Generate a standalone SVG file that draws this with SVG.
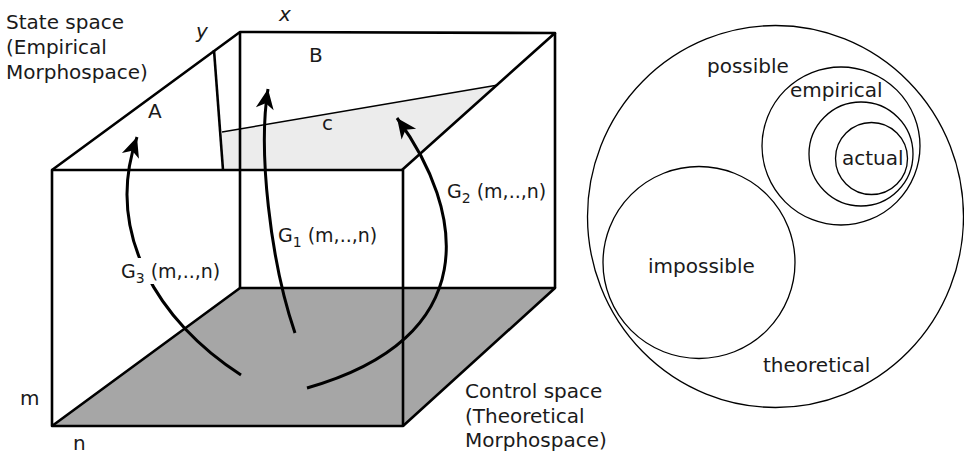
<svg xmlns="http://www.w3.org/2000/svg" width="964" height="454" viewBox="0 0 964 454">
<style>
text { font-family: "DejaVu Sans", "Liberation Sans", sans-serif; font-size: 20px; fill: #1a1a1a; }
.edge { fill: none; stroke: #000; stroke-width: 2.6; stroke-linejoin: round; }
.thin { fill: none; stroke: #000; stroke-width: 1.4; }
.arc { fill: none; stroke: #000; stroke-width: 3; }
.ring { fill: none; stroke: #000; stroke-width: 1.3; }
.sub { font-size: 14px; }
.g { font-size: 19px; }
</style>
<defs>
<marker id="head" markerUnits="userSpaceOnUse" markerWidth="26" markerHeight="22" refX="21" refY="10" orient="auto" viewBox="0 0 26 20">
<path d="M21,10 L1,1 L6.5,10 L1,19 Z" fill="#000"/>
</marker>
</defs>
<rect width="964" height="454" fill="#fff"/>
<g id="box">
<polygon points="52,426 240,288 555,288 403,426" fill="#a6a6a6"/>
<polygon points="222,132 498,85 402,170 223,170" fill="#ececec"/>
<line class="thin" x1="222" y1="132" x2="498" y2="85"/>
<line class="edge" x1="214" y1="50" x2="223" y2="170"/>
<rect class="edge" x="52" y="170" width="351" height="256"/>
<polyline class="edge" points="52,170 240,32 555,33 402,170"/>
<line class="edge" x1="240" y1="32" x2="240" y2="288"/>
<line class="edge" x1="555" y1="33" x2="555" y2="288"/>
<polyline class="edge" points="52,426 240,288 555,288 403,426"/>
</g>
<g id="connectors">
<path class="arc" d="M241,375 C158,322 104,232 137,137" marker-end="url(#head)"/>
<path class="arc" d="M295,333 C270,260 258,150 268,89" marker-end="url(#head)"/>
<path class="arc" d="M307,388 C484,338 466,212 397,118" marker-end="url(#head)"/>
</g>
<rect x="118" y="258" width="106" height="26" fill="#fff"/>
<g id="labels-cube">
<text x="6" y="29">State space</text>
<text x="6" y="54">(Empirical</text>
<text x="6" y="79">Morphospace)</text>
<text x="196" y="38" font-style="italic">y</text>
<text x="279" y="21" font-style="italic">x</text>
<text x="148" y="118">A</text>
<text x="309" y="62">B</text>
<text x="322" y="130" font-size="17">c</text>
<text class="g" x="121" y="278">G<tspan class="sub" dy="5">3</tspan><tspan dy="-5"> (m,..,n)</tspan></text>
<text class="g" x="278" y="242">G<tspan class="sub" dy="5">1</tspan><tspan dy="-5"> (m,..,n)</tspan></text>
<text class="g" x="447" y="198">G<tspan class="sub" dy="5">2</tspan><tspan dy="-5"> (m,..,n)</tspan></text>
<text x="20" y="405">m</text>
<text x="73" y="450">n</text>
<text x="465" y="398">Control space</text>
<text x="465" y="423">(Theoretical</text>
<text x="465" y="447">Morphospace)</text>
</g>
<g id="theoretical">
<ellipse class="ring" cx="775.5" cy="216.5" rx="188" ry="191"/>
<text x="763" y="372">theoretical</text>
</g>
<g id="possible">
<text x="707" y="73">possible</text>
</g>
<g id="impossible">
<circle class="ring" cx="699" cy="262.5" r="96"/>
<text x="648" y="273">impossible</text>
</g>
<g id="empirical">
<circle class="ring" cx="841" cy="146" r="79"/>
<text x="790" y="97">empirical</text>
</g>
<g id="inner">
<circle class="ring" cx="861" cy="154" r="52"/>
</g>
<g id="actual">
<circle class="ring" cx="871.5" cy="158.5" r="36" fill="#dcdcdc"/>
<text x="842" y="165">actual</text>
</g>
</svg>
